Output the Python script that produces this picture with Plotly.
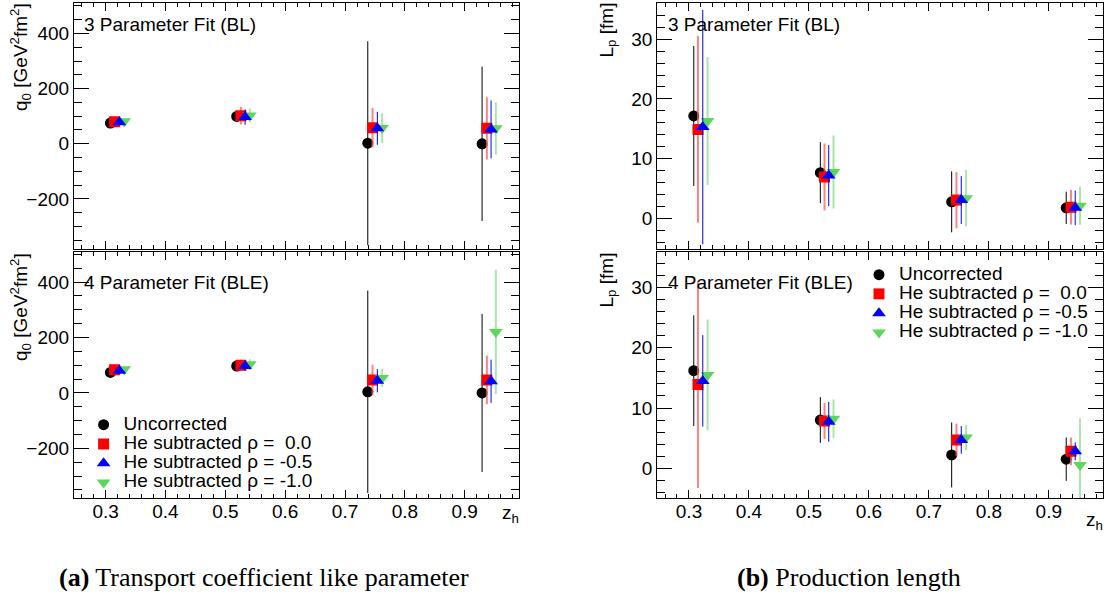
import plotly.graph_objects as go

# ---------------- data ----------------
series_names = ["Uncorrected", "He subtracted \u03c1 = \u00a00.0",
                "He subtracted \u03c1 = -0.5", "He subtracted \u03c1 = -1.0"]

z_unc = [0.308, 0.519, 0.738, 0.929]
z_rho0 = [0.315, 0.526, 0.746, 0.937]
z_rho05 = [0.323, 0.533, 0.754, 0.944]
z_rho10 = [0.331, 0.541, 0.762, 0.952]

# q0, 3 parameter fit (BL)
q3_unc = [75, 99, 2, 0]
q3_unc_err = [8, 10, 370, 280]
q3_rho0 = [80, 102, 58, 56]
q3_rho0_err = [10, 32, 72, 113]
q3_rho05 = [78, 97, 56, 52]
q3_rho05_err = [10, 28, 60, 105]
q3_rho10 = [82, 103, 57, 56]
q3_rho10_err = [10, 25, 54, 95]

# q0, 4 parameter fit (BLE)
q4_unc = [74, 97, 4, 0]
q4_unc_err = [8, 10, 365, 285]
q4_rho0 = [84, 100, 47, 47]
q4_rho0_err = [10, 20, 55, 88]
q4_rho05 = [80, 97, 44, 42]
q4_rho05_err = [10, 18, 42, 78]
q4_rho10 = [85, 103, 54, 220]
q4_rho10_err = [10, 18, 32, 224]

# Lp, 3 parameter fit (BL)
l3_unc = [17.15, 7.67, 2.8, 1.8]
l3_unc_err = [11.7, 5.1, 5.1, 2.7]
l3_rho0 = [14.9, 6.95, 3.1, 1.9]
l3_rho0_err = [15.6, 5.6, 4.7, 2.9]
l3_rho05 = [15.3, 7.2, 3.1, 1.8]
l3_rho05_err = [19.6, 5.1, 4.0, 2.9]
l3_rho10 = [16.3, 7.8, 3.4, 2.15]
l3_rho10_err = [10.7, 6.1, 4.7, 3.2]

# Lp, 4 parameter fit (BLE)
l4_unc = [16.2, 8.0, 2.2, 1.5]
l4_unc_err = [9.2, 3.8, 5.4, 3.6]
l4_rho0 = [13.9, 7.85, 4.7, 2.8]
l4_rho0_err = [17.2, 3.0, 2.7, 2.3]
l4_rho05 = [14.5, 7.7, 4.7, 2.8]
l4_rho05_err = [7.6, 3.3, 2.3, 1.5]
l4_rho10 = [15.5, 8.2, 5.1, 0.55]
l4_rho10_err = [9.2, 3.2, 2.1, 7.75]

panel_labels = ["3 Parameter Fit (BL)", "4 Parameter Fit (BLE)"]
captions = ["<b>(a)</b> Transport coefficient like parameter", "<b>(b)</b> Production length"]

# ---------------- style ----------------
W, H = 1108, 596
FONT = "Liberation Sans, Arial, Helvetica, sans-serif"
SERIF = "Liberation Serif, Times New Roman, serif"
marker_cols = ["#000000", "#ff0000", "#0000ff", "#5cd65c"]
bar_cols = ["#000000", "rgba(255,90,90,0.75)", "#0000ff", "rgba(110,215,110,0.6)"]
bar_w = [1, 2, 1, 2]
symbols = ["circle", "square", "triangle-up", "triangle-down"]
sizes = [11, 11, 12, 12]
draw_order = [0, 1, 3, 2]


def px_x(p):
    return p / W


def px_y(p):
    return (H - p) / H


xl = [px_x(73.9), px_x(518.6)]
xr = [px_x(657.2), px_x(1102.8)]
yt = [px_y(248.5), px_y(3.2)]
yb = [px_y(498.3), px_y(251.5)]

fig = go.Figure()

panels = [
    ("x", "y", [(z_unc, q3_unc, q3_unc_err), (z_rho0, q3_rho0, q3_rho0_err),
                (z_rho05, q3_rho05, q3_rho05_err), (z_rho10, q3_rho10, q3_rho10_err)], None),
    ("x2", "y2", [(z_unc, q4_unc, q4_unc_err), (z_rho0, q4_rho0, q4_rho0_err),
                  (z_rho05, q4_rho05, q4_rho05_err), (z_rho10, q4_rho10, q4_rho10_err)], "legend"),
    ("x3", "y3", [(z_unc, l3_unc, l3_unc_err), (z_rho0, l3_rho0, l3_rho0_err),
                  (z_rho05, l3_rho05, l3_rho05_err), (z_rho10, l3_rho10, l3_rho10_err)], None),
    ("x4", "y4", [(z_unc, l4_unc, l4_unc_err), (z_rho0, l4_rho0, l4_rho0_err),
                  (z_rho05, l4_rho05, l4_rho05_err), (z_rho10, l4_rho10, l4_rho10_err)], "legend2"),
]

for xa, ya, sets, leg in panels:
    for i in draw_order:
        xs, ys, es = sets[i]
        fig.add_trace(go.Scatter(
            x=xs, y=ys, mode="markers", xaxis=xa, yaxis=ya,
            name='<span style="font-size:19px">%s</span>' % series_names[i],
            marker=dict(symbol=symbols[i], size=sizes[i], color=marker_cols[i],
                        line=dict(width=0)),
            error_y=dict(type="data", array=es, visible=True, color=bar_cols[i],
                         thickness=bar_w[i], width=0),
            showlegend=leg is not None,
            legend=leg if leg else "legend",
            legendrank=i + 1,
            cliponaxis=True,
        ))

tickfont = dict(family=FONT, size=19, color="black")


def xaxis(domain, anchor, labels):
    return dict(domain=domain, anchor=anchor, range=[0.247, 0.99],
                tick0=0, dtick=0.1, ticks="inside", ticklen=8, tickwidth=1, tickcolor="black",
                minor=dict(ticks="inside", ticklen=4, tickwidth=1, tickcolor="black", dtick=0.02, tick0=0),
                showline=True, linecolor="black", linewidth=1, mirror="ticks",
                showgrid=False, zeroline=False, showticklabels=labels,
                ticklabelstandoff=-4,
                tickformat=".1f", tickfont=tickfont)


def yaxis(domain, anchor, rng, dt, mdt):
    return dict(domain=domain, anchor=anchor, range=rng,
                tick0=0, dtick=dt, ticks="inside", ticklen=15, tickwidth=1, tickcolor="black",
                minor=dict(ticks="inside", ticklen=8, tickwidth=1, tickcolor="black", dtick=mdt, tick0=0),
                showline=True, linecolor="black", linewidth=1, mirror="ticks",
                showgrid=False, zeroline=False, tickfont=tickfont)


q_range = [-380, 510]
l_range = [-5, 36]

annotations = []


def ann(text, x, y, xanchor="left", yanchor="middle", size=19, angle=0, family=FONT):
    annotations.append(dict(text=text, x=px_x(x), y=px_y(y), xref="paper", yref="paper",
                            xanchor=xanchor, yanchor=yanchor, showarrow=False, textangle=angle,
                            font=dict(family=family, size=size, color="black")))


# panel labels
ann(panel_labels[0], 82, 25)
ann(panel_labels[1], 82, 282)
ann(panel_labels[0], 666, 25)
ann(panel_labels[1], 666, 282)
# y titles
qt = "q<sub>0</sub> [GeV<sup>2</sup>fm<sup>2</sup>]"
lt = "L<sub>p</sub> [fm]"
ann(qt, 20, 1, xanchor="center", yanchor="top", angle=-90)
ann(qt, 20, 251, xanchor="center", yanchor="top", angle=-90)
ann(lt, 607, 1, xanchor="center", yanchor="top", angle=-90)
ann(lt, 607, 251, xanchor="center", yanchor="top", angle=-90)
# x titles
ann("z<sub>h</sub>", 510, 514, xanchor="center")
ann("z<sub>h</sub>", 1094, 521, xanchor="center")
# captions
ann(captions[0], 264, 577, xanchor="center", size=26, family=SERIF)
ann(captions[1], 849, 577, xanchor="center", size=26, family=SERIF)

legend_style = dict(font=dict(family=FONT, size=12.5, color="black"), bgcolor="rgba(0,0,0,0)",
                    borderwidth=0, xanchor="left", yanchor="top", tracegroupgap=0,
                    itemsizing="trace", traceorder="normal")

fig.update_layout(
    width=W, height=H, autosize=False,
    margin=dict(l=0, r=0, t=0, b=0),
    paper_bgcolor="white", plot_bgcolor="white",
    font=dict(family=FONT, size=19, color="black"),
    xaxis=xaxis(xl, "y", False), yaxis=yaxis(yt, "x", q_range, 200, 50),
    xaxis2=xaxis(xl, "y2", True), yaxis2=yaxis(yb, "x2", q_range, 200, 50),
    xaxis3=xaxis(xr, "y3", False), yaxis3=yaxis(yt, "x3", l_range, 10, 2),
    xaxis4=xaxis(xr, "y4", True), yaxis4=yaxis(yb, "x4", l_range, 10, 2),
    legend=dict(x=px_x(83.6), y=px_y(410), **legend_style),
    legend2=dict(x=px_x(859), y=px_y(260), **legend_style),
    annotations=annotations,
    showlegend=True,
)

fig.write_html("out.html", config={"displayModeBar": False},
               post_script="document.body.style.margin='0';")
